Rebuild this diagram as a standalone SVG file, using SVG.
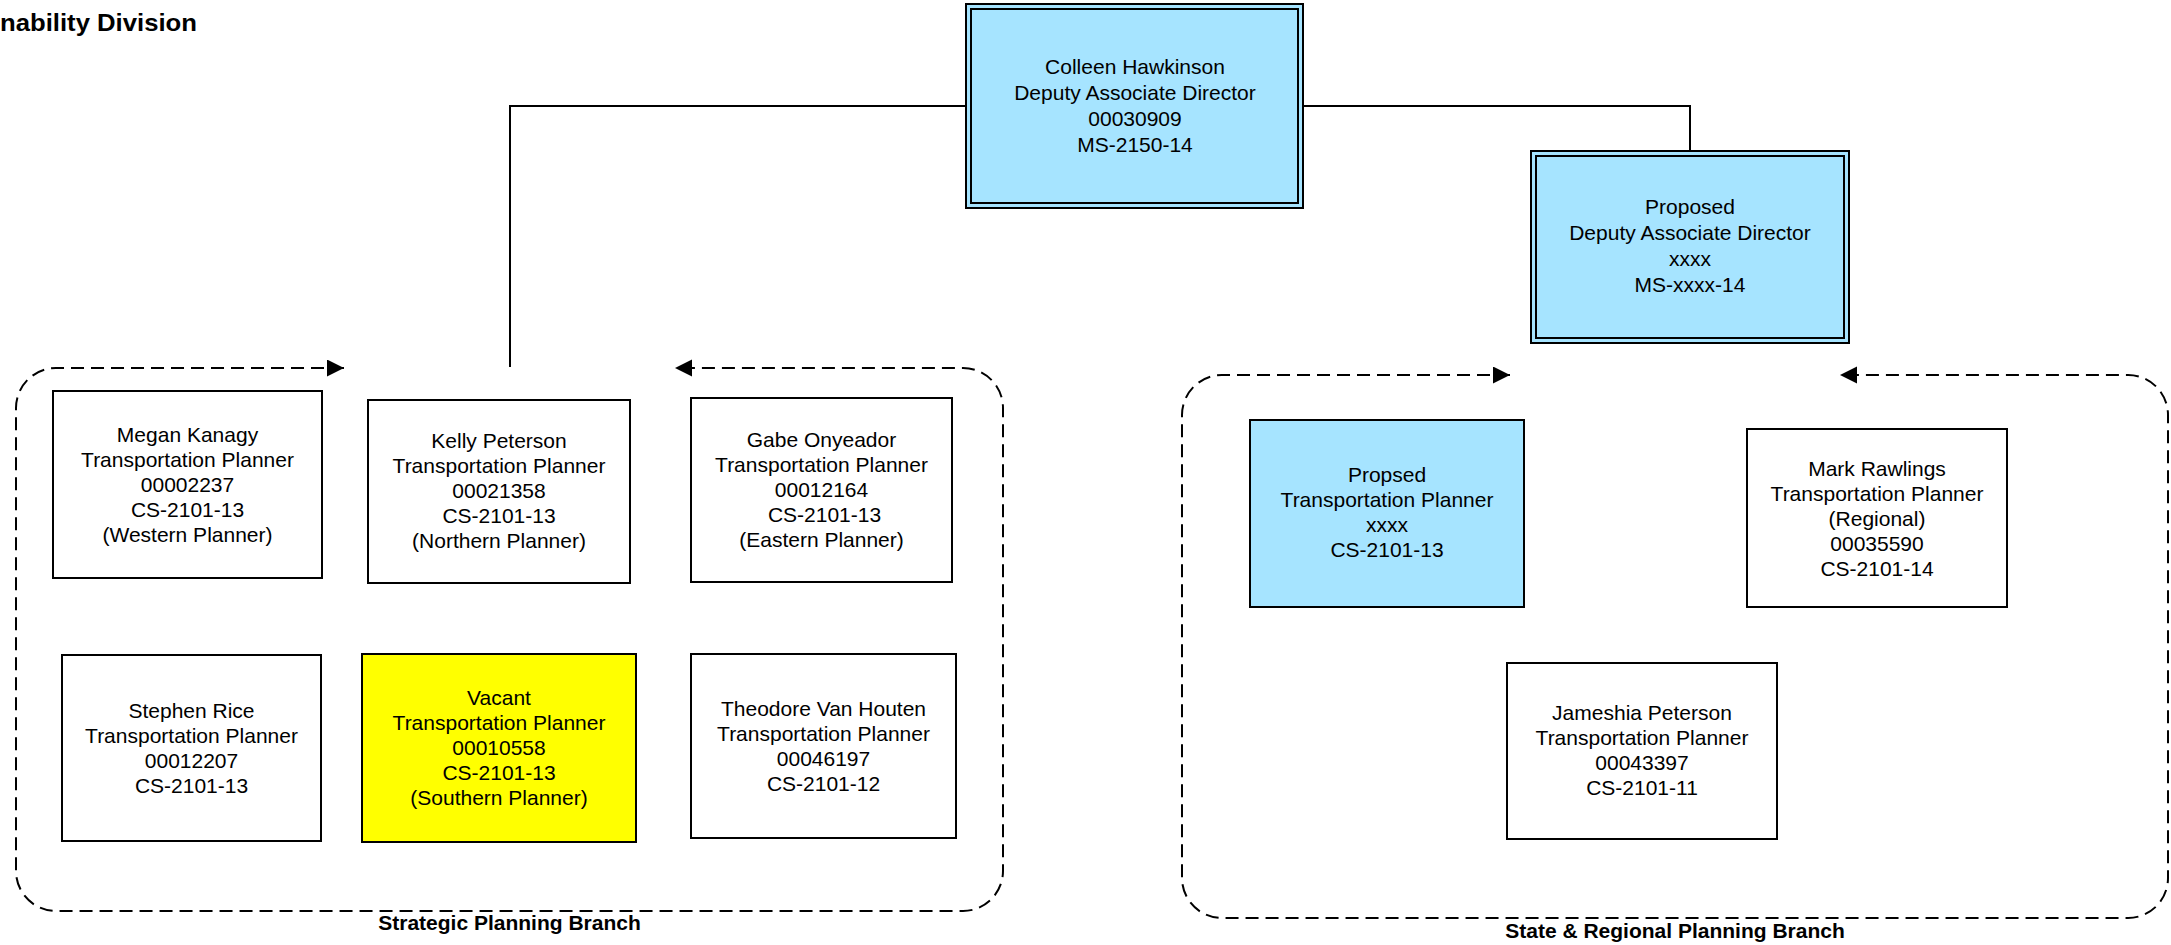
<svg xmlns="http://www.w3.org/2000/svg" width="2171" height="945" viewBox="0 0 2171 945">
<style>
text{font-family:"Liberation Sans",Arial,sans-serif;font-size:21px;fill:#000;text-anchor:middle}
.lbl{font-weight:bold}
.box{stroke:#000;stroke-width:2;fill:#fff}
.blue{fill:#a6e4ff}
.yellow{fill:#ffff00}
.conn{fill:none;stroke:#000;stroke-width:2}
.grp{fill:none;stroke:#000;stroke-width:2;stroke-dasharray:13 7}
</style>
<defs>
<marker id="ah" markerUnits="userSpaceOnUse" markerWidth="18" markerHeight="18" refX="17" refY="8.5" orient="auto-start-reverse">
<path d="M0,0 L17,8.5 L0,17 Z" fill="#000" stroke="none"/>
</marker>
</defs>
<rect width="2171" height="945" fill="#fff"/>
<text class="lbl" x="0" y="31" style="text-anchor:start;font-size:24px" textLength="197" lengthAdjust="spacingAndGlyphs">nability Division</text>

<g id="connectors">
<polyline class="conn" points="966,106 510,106 510,367"/>
<polyline class="conn" points="1303,106 1690,106 1690,151"/>
</g>

<g id="strategic-branch">
<path class="grp" d="M344,368 H56 A40,40 0 0 0 16,408 V871 A40,40 0 0 0 56,911 H963 A40,40 0 0 0 1003,871 V408 A40,40 0 0 0 963,368 H675" marker-start="url(#ah)" marker-end="url(#ah)"/>
<text class="lbl" x="509.5" y="930">Strategic Planning Branch</text>
</g>

<g id="state-regional-branch">
<path class="grp" d="M1510,375 H1222 A40,40 0 0 0 1182,415 V878 A40,40 0 0 0 1222,918 H2128 A40,40 0 0 0 2168,878 V415 A40,40 0 0 0 2128,375 H1840" marker-start="url(#ah)" marker-end="url(#ah)"/>
<text class="lbl" x="1675" y="938">State &amp; Regional Planning Branch</text>
</g>

<g id="colleen">
<rect class="box blue" x="966" y="4" width="337" height="204"/>
<rect class="box blue" x="971" y="9" width="327" height="194"/>
<text x="1135" y="74">Colleen Hawkinson</text>
<text x="1135" y="100">Deputy Associate Director</text>
<text x="1135" y="126">00030909</text>
<text x="1135" y="152">MS-2150-14</text>
</g>

<g id="proposed-dad">
<rect class="box blue" x="1531" y="151" width="318" height="192"/>
<rect class="box blue" x="1536" y="156" width="308" height="182"/>
<text x="1690" y="214">Proposed</text>
<text x="1690" y="240">Deputy Associate Director</text>
<text x="1690" y="266">xxxx</text>
<text x="1690" y="292">MS-xxxx-14</text>
</g>

<g id="megan">
<rect class="box" x="53" y="391" width="269" height="187"/>
<text x="187.5" y="442">Megan Kanagy</text>
<text x="187.5" y="467">Transportation Planner</text>
<text x="187.5" y="492">00002237</text>
<text x="187.5" y="517">CS-2101-13</text>
<text x="187.5" y="542">(Western Planner)</text>
</g>

<g id="kelly">
<rect class="box" x="368" y="400" width="262" height="183"/>
<text x="499" y="448">Kelly Peterson</text>
<text x="499" y="473">Transportation Planner</text>
<text x="499" y="498">00021358</text>
<text x="499" y="523">CS-2101-13</text>
<text x="499" y="548">(Northern Planner)</text>
</g>

<g id="gabe">
<rect class="box" x="691" y="398" width="261" height="184"/>
<text x="821.5" y="447">Gabe Onyeador</text>
<text x="821.5" y="472">Transportation Planner</text>
<text x="821.5" y="497">00012164</text>
<text x="824.5" y="522">CS-2101-13</text>
<text x="821.5" y="547">(Eastern Planner)</text>
</g>

<g id="stephen">
<rect class="box" x="62" y="655" width="259" height="186"/>
<text x="191.5" y="718">Stephen Rice</text>
<text x="191.5" y="743">Transportation Planner</text>
<text x="191.5" y="768">00012207</text>
<text x="191.5" y="793">CS-2101-13</text>
</g>

<g id="vacant">
<rect class="box yellow" x="362" y="654" width="274" height="188"/>
<text x="499" y="705">Vacant</text>
<text x="499" y="730">Transportation Planner</text>
<text x="499" y="755">00010558</text>
<text x="499" y="780">CS-2101-13</text>
<text x="499" y="805">(Southern Planner)</text>
</g>

<g id="theodore">
<rect class="box" x="691" y="654" width="265" height="184"/>
<text x="823.5" y="716">Theodore Van Houten</text>
<text x="823.5" y="741">Transportation Planner</text>
<text x="823.5" y="766">00046197</text>
<text x="823.5" y="791">CS-2101-12</text>
</g>

<g id="propsed-tp">
<rect class="box blue" x="1250" y="420" width="274" height="187"/>
<text x="1387" y="482">Propsed</text>
<text x="1387" y="507">Transportation Planner</text>
<text x="1387" y="532">xxxx</text>
<text x="1387" y="557">CS-2101-13</text>
</g>

<g id="mark">
<rect class="box" x="1747" y="429" width="260" height="178"/>
<text x="1877" y="476">Mark Rawlings</text>
<text x="1877" y="501">Transportation Planner</text>
<text x="1877" y="526">(Regional)</text>
<text x="1877" y="551">00035590</text>
<text x="1877" y="576">CS-2101-14</text>
</g>

<g id="jameshia">
<rect class="box" x="1507" y="663" width="270" height="176"/>
<text x="1642" y="720">Jameshia Peterson</text>
<text x="1642" y="745">Transportation Planner</text>
<text x="1642" y="770">00043397</text>
<text x="1642" y="795">CS-2101-11</text>
</g>
</svg>
